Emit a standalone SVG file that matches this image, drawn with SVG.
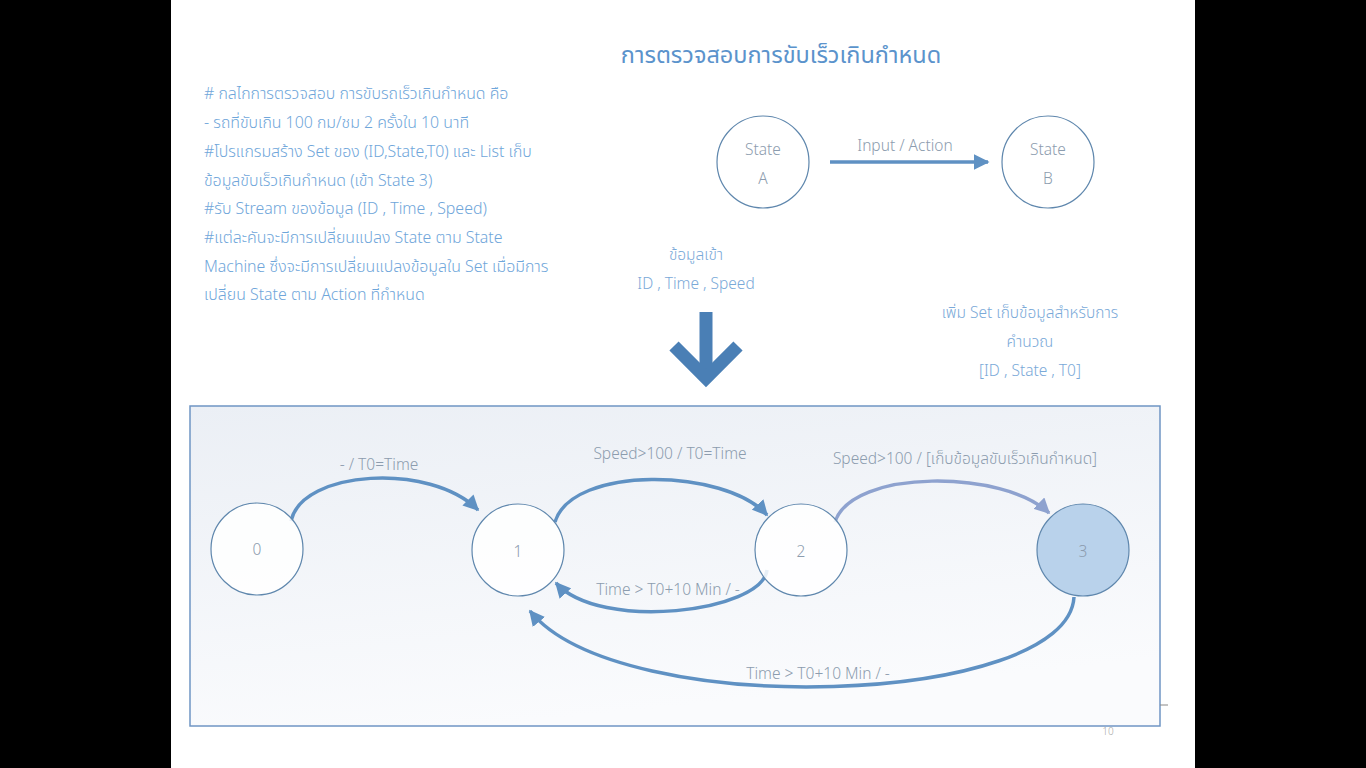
<svg xmlns="http://www.w3.org/2000/svg" width="1366" height="768" viewBox="0 0 1366 768">
<defs>
<style>
.t{font-family:"Noto Sans","Noto Sans Thai","Liberation Sans",sans-serif;font-weight:300;}
.left{font-size:15.9px;fill:#6fa6da;}
.mid{font-size:15.5px;fill:#7aa9d8;text-anchor:middle;}
.lbl{font-size:15.5px;fill:#8c9cae;text-anchor:middle;}
.st{font-size:15.5px;fill:#8c9cae;text-anchor:middle;}
.node{fill:#ffffff;fill-opacity:0.85;stroke:#5f87ad;stroke-width:1.2;}
.edge{fill:none;stroke:#5f91c3;stroke-width:3.5;}
.edge2{fill:none;stroke:#8ea2cf;stroke-width:3.5;}
</style>
<linearGradient id="bg" x1="0" y1="0" x2="0.3" y2="1">
<stop offset="0" stop-color="#ebeff5"/>
<stop offset="1" stop-color="#fafbfd"/>
</linearGradient>
<marker id="ah" viewBox="0 0 10 10" refX="9" refY="5" markerWidth="4.5" markerHeight="4.5" orient="auto" markerUnits="strokeWidth">
<path d="M0,0 L10,5 L0,10 z" fill="#5f91c3"/>
</marker>
<marker id="ah2" viewBox="0 0 10 10" refX="9" refY="5" markerWidth="4.5" markerHeight="4.5" orient="auto" markerUnits="strokeWidth">
<path d="M0,0 L10,5 L0,10 z" fill="#8ea2cf"/>
</marker>
</defs>
<rect x="0" y="0" width="1366" height="768" fill="#000"/>
<rect x="171" y="0" width="1024" height="768" fill="#fff"/>

<text class="t" x="781" y="63" font-size="23.5" fill="#5b93cc" text-anchor="middle" style="font-weight:400">การตรวจสอบการขับเร็วเกินกำหนด</text>

<g id="intro" class="t left">
<text x="204" y="99">#  กลไกการตรวจสอบ  การขับรถเร็วเกินกำหนด  คือ</text>
<text x="204" y="128">- รถที่ขับเกิน 100 กม/ชม 2 ครั้งใน 10 นาที</text>
<text x="204" y="157">#โปรแกรมสร้าง Set ของ (ID,State,T0) และ List เก็บ</text>
<text x="204" y="186">ข้อมูลขับเร็วเกินกำหนด (เข้า State 3)</text>
<text x="204" y="214">#รับ Stream ของข้อมูล (ID , Time , Speed)</text>
<text x="204" y="243">#แต่ละคันจะมีการเปลี่ยนแปลง State ตาม State</text>
<text x="204" y="272">Machine ซึ่งจะมีการเปลี่ยนแปลงข้อมูลใน Set เมื่อมีการ</text>
<text x="204" y="300">เปลี่ยน State ตาม Action ที่กำหนด</text>
</g>

<g id="stateA"><circle class="node" cx="763" cy="162" r="46"/>
<text class="t st" x="763" y="155">State</text><text class="t st" x="763" y="184">A</text></g>
<g id="stateB"><circle class="node" cx="1048" cy="162" r="46"/>
<text class="t st" x="1048" y="155">State</text><text class="t st" x="1048" y="184">B</text></g>

<g id="legend-edge">
<line x1="830" y1="162" x2="988" y2="162" class="edge" marker-end="url(#ah)"/>
<text class="t lbl" x="905" y="151">Input / Action</text>
</g>

<g id="input-note" class="t mid">
<text x="696" y="260">ข้อมูลเข้า</text>
<text x="696" y="289">ID , Time , Speed</text>
</g>
<g id="down-arrow" fill="none" stroke="#4a7fb5" stroke-width="13">
<line x1="706" y1="312" x2="706" y2="378"/>
<polyline points="674,346 706,378 738,346" stroke-linejoin="miter"/>
</g>

<g id="set-note" class="t mid">
<text x="1030" y="318">เพิ่ม Set เก็บข้อมูลสำหรับการ</text>
<text x="1030" y="347">คำนวณ</text>
<text x="1030" y="376">[ID , State , T0]</text>
</g>

<rect x="190" y="406" width="970" height="320" fill="url(#bg)" stroke="#6f95c4" stroke-width="1.5"/>
<line x1="1160" y1="705" x2="1168" y2="705" stroke="#888" stroke-width="1"/>
<text class="t" x="1108" y="735" font-size="10" fill="#aaa" text-anchor="middle">10</text>

<g id="edges">
<path class="edge" d="M291,521 C302,470 430,462 478,510" marker-end="url(#ah)"/>
<path class="edge" d="M555,522 C572,465 725,468 767,515" marker-end="url(#ah)"/>
<path class="edge2" d="M835,522 C852,468 1005,470 1049,513" marker-end="url(#ah2)"/>
<path class="edge" d="M767,570 C762,612 600,632 556,583" marker-end="url(#ah)"/>
<path class="edge" d="M1074,597 C1068,706 620,722 530,611" marker-end="url(#ah)"/>
</g>

<g id="edge-labels" class="t lbl">
<text x="379" y="470">- / T0=Time</text>
<text x="670" y="459">Speed&gt;100 / T0=Time</text>
<text x="965" y="464">Speed&gt;100 / [เก็บข้อมูลขับเร็วเกินกำหนด]</text>
<text x="668" y="595">Time &gt; T0+10 Min / -</text>
<text x="818" y="679">Time &gt; T0+10 Min / -</text>
</g>

<g id="n0"><circle class="node" cx="257" cy="549" r="46"/><text class="t st" x="257" y="555">0</text></g>
<g id="n1"><circle class="node" cx="518" cy="550" r="46"/><text class="t st" x="518" y="557">1</text></g>
<g id="n2"><circle class="node" cx="801" cy="550" r="46"/><text class="t st" x="801" y="557">2</text></g>
<g id="n3"><circle cx="1083" cy="550" r="46" style="fill:#b9d2eb;stroke:#5f87ad;stroke-width:1.2"/><text class="t st" x="1083" y="557">3</text></g>
</svg>
